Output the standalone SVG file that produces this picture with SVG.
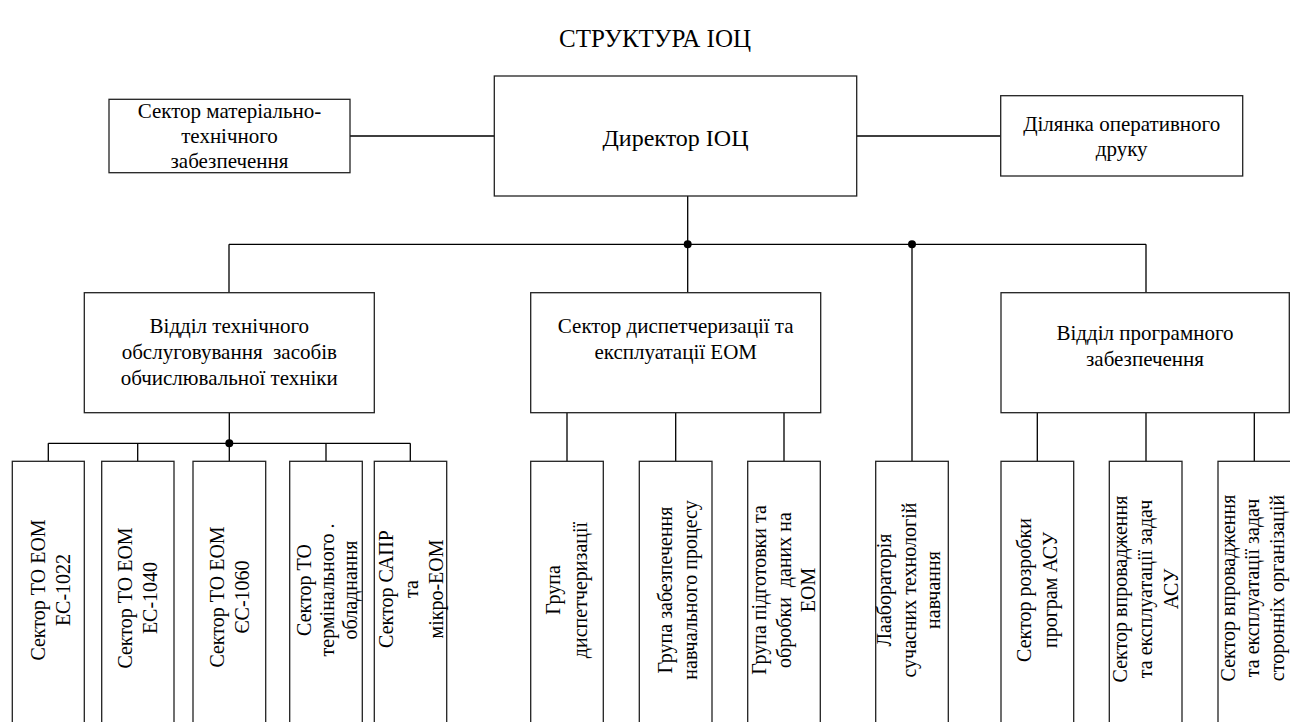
<svg xmlns="http://www.w3.org/2000/svg" width="1290" height="722" viewBox="0 0 1290 722">
<style>
  .box{fill:#fff;stroke:#222;stroke-width:1.3}
  .ln{stroke:#000;stroke-width:1.3;fill:none}
  .dot{fill:#000}
  text{font-size:21px;fill:#000;text-anchor:middle}
  .title{font-size:25px}
  .big{font-size:24px}
  .rot text{font-size:20px}
</style>
<rect width="1290" height="722" fill="#fff"/>
<g font-family="Liberation Serif">
<text class="title" x="655" y="47">СТРУКТУРА ІОЦ</text>

<g id="connectors">
  <path class="ln" d="M350,136H494 M857,136H1000.7 M687.7,196V244.3 M229,244.3H1146 M229,244.3V292.7 M687.7,244.3V292.7 M912,244.3V461.3 M1146,244.3V292.7"/>
  <path class="ln" d="M229.3,412.7V443.3 M48.3,443.3H410.3 M48.3,443.3V461.3 M137.7,443.3V461.3 M229.3,443.3V461.3 M326,443.3V461.3 M410.3,443.3V461.3"/>
  <path class="ln" d="M567,412.7V461.3 M675.7,412.7V461.3 M784,412.7V461.3"/>
  <path class="ln" d="M1037.3,412.7V461.3 M1146,412.7V461.3 M1254.3,412.7V461.3"/>
  <circle class="dot" cx="687.7" cy="244.3" r="4"/>
  <circle class="dot" cx="912" cy="244.3" r="4"/>
  <circle class="dot" cx="229.3" cy="443.3" r="4"/>
</g>

<g id="sector-mtz">
  <rect class="box" x="109" y="99.3" width="241" height="73.4"/>
  <text x="229.5" y="118">Сектор матеріально-</text>
  <text x="229.5" y="143">технічного</text>
  <text x="229.5" y="168">забезпечення</text>
</g>
<g id="director">
  <rect class="box" x="494.3" y="76" width="362.4" height="120"/>
  <text class="big" x="675.5" y="146">Директор ІОЦ</text>
</g>
<g id="dilyanka">
  <rect class="box" x="1000.7" y="95.7" width="242" height="80.3"/>
  <text x="1121.7" y="131">Ділянка оперативного</text>
  <text x="1121.7" y="156">друку</text>
</g>

<g id="viddil-to">
  <rect class="box" x="84.3" y="292.7" width="290" height="120"/>
  <text x="229.3" y="333">Відділ технічного</text>
  <text x="229.3" y="359" xml:space="preserve">обслуговування  засобів</text>
  <text x="229.3" y="385">обчислювальної техніки</text>
</g>
<g id="sector-disp">
  <rect class="box" x="530.7" y="292.7" width="290" height="120"/>
  <text x="675.7" y="333">Сектор диспетчеризації та</text>
  <text x="675.7" y="359">експлуатації ЕОМ</text>
</g>
<g id="viddil-pz">
  <rect class="box" x="1001" y="292.7" width="288.3" height="120"/>
  <text x="1145" y="340">Відділ програмного</text>
  <text x="1145" y="366">забезпечення</text>
</g>

<g id="s1022" class="rot">
  <rect class="box" x="12.3" y="461.3" width="72" height="270"/>
  <g transform="translate(0,590) rotate(-90)">
    <text x="0" y="45">Сектор ТО ЕОМ</text>
    <text x="0" y="70">ЕС-1022</text>
  </g>
</g>
<g id="s1040" class="rot">
  <rect class="box" x="101.7" y="461.3" width="72.3" height="270"/>
  <g transform="translate(0,598) rotate(-90)">
    <text x="0" y="132">Сектор ТО ЕОМ</text>
    <text x="0" y="157">ЕС-1040</text>
  </g>
</g>
<g id="s1060" class="rot">
  <rect class="box" x="193" y="461.3" width="72.7" height="270"/>
  <g transform="translate(0,597) rotate(-90)">
    <text x="0" y="224">Сектор ТО ЕОМ</text>
    <text x="0" y="249">ЄС-1060</text>
  </g>
</g>
<g id="s-term" class="rot">
  <rect class="box" x="289.7" y="461.3" width="72.6" height="270"/>
  <g transform="translate(0,590) rotate(-90)">
    <text x="0" y="311">Сектор ТО</text>
    <text x="0" y="334" xml:space="preserve">термінального .</text>
    <text x="0" y="357">обладнання</text>
  </g>
</g>
<g id="s-sapr" class="rot">
  <rect class="box" x="374.3" y="461.3" width="72.4" height="270"/>
  <g transform="translate(0,589) rotate(-90)">
    <text x="0" y="393">Сектор САПР</text>
    <text x="0" y="418">та</text>
    <text x="0" y="443">мікро-ЕОМ</text>
  </g>
</g>

<g id="g-disp" class="rot">
  <rect class="box" x="530.7" y="461.3" width="72.6" height="270"/>
  <g transform="translate(0,590) rotate(-90)">
    <text x="0" y="560">Група</text>
    <text x="0" y="587">диспетчеризації</text>
  </g>
</g>
<g id="g-navch" class="rot">
  <rect class="box" x="639.3" y="461.3" width="72.7" height="270"/>
  <g transform="translate(0,590) rotate(-90)">
    <text x="0" y="672">Група забезпечення</text>
    <text x="0" y="697">навчального процесу</text>
  </g>
</g>
<g id="g-pidg" class="rot">
  <rect class="box" x="747.7" y="461.3" width="72.6" height="270"/>
  <g transform="translate(0,590) rotate(-90)">
    <text x="0" y="766">Група підготовки та</text>
    <text x="0" y="791" xml:space="preserve">обробки  даних на</text>
    <text x="0" y="815">ЕОМ</text>
  </g>
</g>
<g id="lab" class="rot">
  <rect class="box" x="875.7" y="461.3" width="72.6" height="270"/>
  <g transform="translate(0,590) rotate(-90)">
    <text x="0" y="891">Лаабораторія</text>
    <text x="0" y="916">сучасних технологій</text>
    <text x="0" y="940">навчання</text>
  </g>
</g>

<g id="p-rozr" class="rot">
  <rect class="box" x="1001" y="461.3" width="72.7" height="270"/>
  <g transform="translate(0,590) rotate(-90)">
    <text x="0" y="1031">Сектор розробки</text>
    <text x="0" y="1057">програм АСУ</text>
  </g>
</g>
<g id="p-asu" class="rot">
  <rect class="box" x="1109.3" y="461.3" width="72.7" height="270"/>
  <g transform="translate(0,589) rotate(-90)">
    <text x="0" y="1127">Сектор впровадження</text>
    <text x="0" y="1152">та експлуатації задач</text>
    <text x="0" y="1178">АСУ</text>
  </g>
</g>
<g id="p-storon" class="rot">
  <rect class="box" x="1218" y="461.3" width="73" height="270"/>
  <g transform="translate(0,588) rotate(-90)">
    <text x="0" y="1235">Сектор впровадження</text>
    <text x="0" y="1259">та експлуатації задач</text>
    <text x="0" y="1284">сторонніх організацій</text>
  </g>
</g>
</g>
</svg>
